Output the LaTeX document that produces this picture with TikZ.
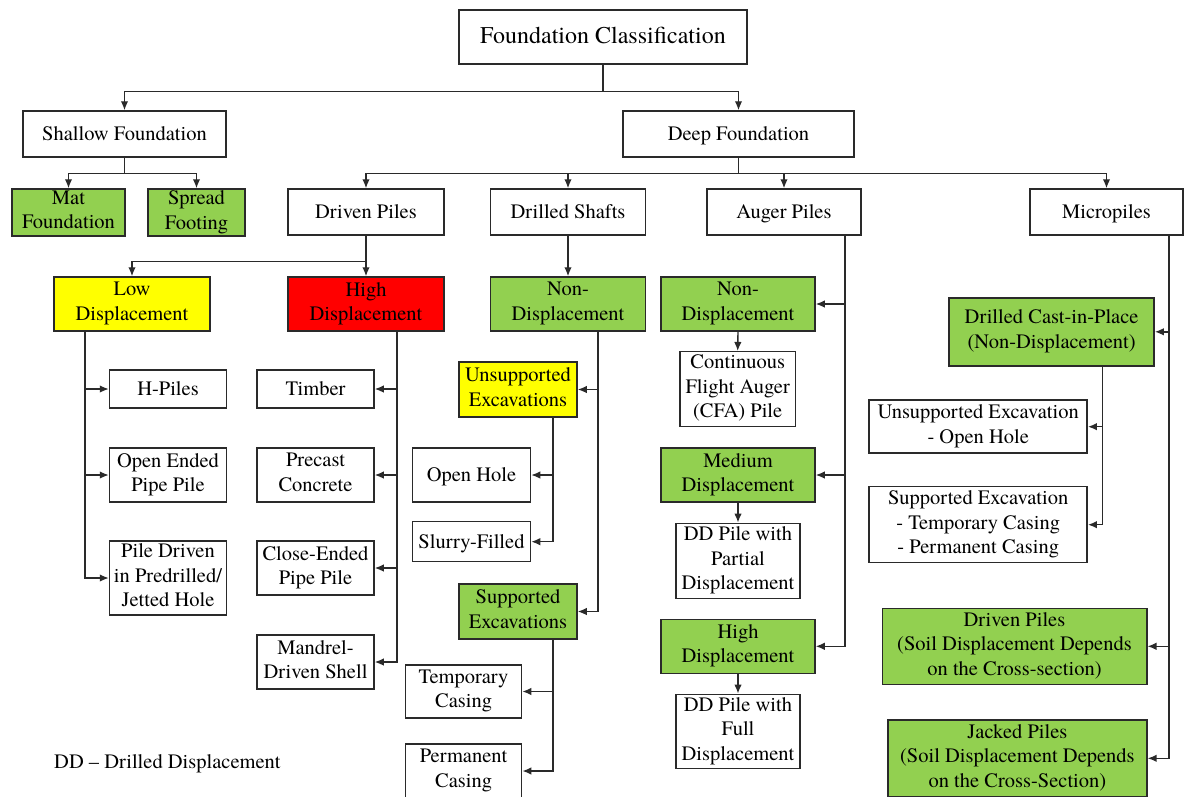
\documentclass[tikz,border=0pt]{standalone}
\usepackage{fontspec}
\setmainfont{TeX Gyre Termes}
\usetikzlibrary{arrows.meta}
\definecolor{gfill}{HTML}{92D050}
\definecolor{yfill}{HTML}{FFFF00}
\definecolor{rfill}{HTML}{FF0000}
\definecolor{ln}{HTML}{2A2A2A}
\newcommand\boxstrut{\rule[-5.35pt]{0pt}{24.5pt}}
\begin{document}
\begin{tikzpicture}[x=1pt,y=-1pt,
  box/.style={draw=ln,line width=1.5pt,inner sep=0pt,align=center,
    font=\rmfamily\fontsize{20.5}{24.5}\selectfont,
    execute at begin node=\boxstrut, execute at end node=\boxstrut},
  green/.style={box,fill=gfill},
  yel/.style={box,fill=yfill},
  red/.style={box,fill=rfill},
  arr/.style={draw=ln,line width=1.4pt,-{Latex[length=9pt,width=7.5pt]}}]
\useasboundingbox (0,0) rectangle (1187,796);
% level 0-1
\node[box,font=\rmfamily\fontsize{24}{28}\selectfont,minimum width=288pt,minimum height=54pt] (fc) at (603,37) {Foundation Classification};
\node[box,minimum width=203pt,minimum height=46pt] (shallow) at (124.5,134) {Shallow Foundation};
\node[box,minimum width=231pt,minimum height=46pt] (deep) at (738.5,134) {Deep Foundation};
% level 2
\node[green,minimum width=113pt,minimum height=47pt] (mat) at (68.5,212.5) {Mat\\Foundation};
\node[green,minimum width=97pt,minimum height=47pt] (spread) at (196.5,212.5) {Spread\\Footing};
\node[box,minimum width=156pt,minimum height=46pt] (driven) at (366,212) {Driven Piles};
\node[box,minimum width=155pt,minimum height=46pt] (drilled) at (568,212) {Drilled Shafts};
\node[box,minimum width=154pt,minimum height=46pt] (auger) at (784,212) {Auger Piles};
\node[box,minimum width=153pt,minimum height=46pt] (micro) at (1106.5,212) {Micropiles};
% level 3
\node[yel,minimum width=156pt,minimum height=54pt] (low) at (132,304) {Low\\Displacement};
\node[red,minimum width=156pt,minimum height=54pt] (high) at (366,304) {High\\Displacement};
\node[green,minimum width=155pt,minimum height=54pt] (nond) at (568,304) {Non-\\Displacement};
\node[green,minimum width=154pt,minimum height=54pt] (nona) at (738,304) {Non-\\Displacement};
\node[green,minimum width=205pt,minimum height=68pt] (dcip) at (1051.6,331.8) {Drilled Cast-in-Place\\(Non-Displacement)};
% low displacement children
\node[box,minimum width=117pt,minimum height=38pt] (hpiles) at (168,389) {H-Piles};
\node[box,minimum width=117pt,minimum height=54pt] (openended) at (168,475) {Open Ended\\Pipe Pile};
\node[box,minimum width=117pt,minimum height=74pt] (piledriven) at (168,578) {Pile Driven\\in Predrilled/\\Jetted Hole};
% high displacement children
\node[box,minimum width=117pt,minimum height=38pt] (timber) at (315.5,389) {Timber};
\node[box,minimum width=117pt,minimum height=54pt] (precast) at (315.5,475) {Precast\\Concrete};
\node[box,minimum width=117pt,minimum height=54pt] (close) at (315.5,568) {Close-Ended\\Pipe Pile};
\node[box,minimum width=117pt,minimum height=54pt] (mandrel) at (315.5,662) {Mandrel-\\Driven Shell};
% drilled shafts children
\node[yel,minimum width=118pt,minimum height=55pt] (unsup) at (518,389.5) {Unsupported\\Excavations};
\node[box,minimum width=118pt,minimum height=54pt] (openhole) at (471.5,475) {Open Hole};
\node[box,minimum width=118pt,minimum height=40pt] (slurry) at (471.5,541.7) {Slurry-Filled};
\node[green,minimum width=118pt,minimum height=55pt] (sup) at (518,611.5) {Supported\\Excavations};
\node[box,minimum width=116pt,minimum height=53pt] (temp) at (463.6,691.5) {Temporary\\Casing};
\node[box,minimum width=116pt,minimum height=54pt] (perm) at (463.6,771) {Permanent\\Casing};
% auger children
\node[box,minimum width=115.5pt,minimum height=75pt] (cfa) at (737.7,389.2) {Continuous\\Flight Auger\\(CFA) Pile};
\node[green,minimum width=154pt,minimum height=54pt] (medium) at (738,475) {Medium\\Displacement};
\node[box,minimum width=124pt,minimum height=75pt] (ddpartial) at (738,560.8) {DD Pile with\\Partial\\Displacement};
\node[green,minimum width=154pt,minimum height=54pt] (higha) at (738,646.3) {High\\Displacement};
\node[box,minimum width=124pt,minimum height=74pt] (ddfull) at (738,731.3) {DD Pile with\\Full\\Displacement};
% micropile children
\node[box,minimum width=218pt,minimum height=53pt] (unsupex) at (978.2,426.7) {Unsupported Excavation\\- Open Hole};
\node[box,minimum width=218pt,minimum height=76pt] (supex) at (978.2,524.7) {Supported Excavation\\- Temporary Casing\\- Permanent Casing};
\node[green,minimum width=264.5pt,minimum height=76pt] (drivenm) at (1014.5,646.3) {Driven Piles\\(Soil Displacement Depends\\on the Cross-section)};
\node[green,minimum width=259pt,minimum height=77pt] (jacked) at (1017.4,758.3) {Jacked Piles\\(Soil Displacement Depends\\on the Cross-Section)};
% note
\node[anchor=base west,inner sep=0pt,font=\rmfamily\fontsize{20.5}{24.5}\selectfont] (note) at (54,768) {DD -- Drilled Displacement};
% connectors
\draw[arr] (fc.south) -- ++(0,27) -| (shallow.north);
\draw[arr] (fc.south) -- ++(0,27) -| (deep.north);
\draw[arr] (shallow.south) -- ++(0,16) -| (mat.north);
\draw[arr] (shallow.south) -- ++(0,16) -| (spread.north);
\draw[arr] (deep.south) -- ++(0,16) -| (driven.north);
\draw[arr] (deep.south) -- ++(0,16) -| (drilled.north);
\draw[arr] (deep.south) -- ++(0,16) -| (auger.north);
\draw[arr] (deep.south) -- ++(0,16) -| (micro.north);
\draw[arr] (driven.south) -- ++(0,26) -| (low.north);
\draw[arr] (driven.south) -- (high.north);
\draw[arr] (drilled.south) -- (nond.north);
\draw[arr] ([xshift=-47pt]low.south) |- (hpiles.west);
\draw[arr] ([xshift=-47pt]low.south) |- (openended.west);
\draw[arr] ([xshift=-47pt]low.south) |- (piledriven.west);
\draw[arr] ([xshift=31pt]high.south) |- (timber.east);
\draw[arr] ([xshift=31pt]high.south) |- (precast.east);
\draw[arr] ([xshift=31pt]high.south) |- (close.east);
\draw[arr] ([xshift=31pt]high.south) |- (mandrel.east);
\draw[arr] ([xshift=30pt]nond.south) |- (unsup.east);
\draw[arr] ([xshift=30pt]nond.south) |- (sup.east);
\draw[arr] ([xshift=35pt]unsup.south) |- (openhole.east);
\draw[arr] ([xshift=35pt]unsup.south) |- (slurry.east);
\draw[arr] ([xshift=35pt]sup.south) |- (temp.east);
\draw[arr] ([xshift=35pt]sup.south) |- (perm.east);
\draw[arr] ([xshift=61pt]auger.south) |- (nona.east);
\draw[arr] ([xshift=61pt]auger.south) |- (medium.east);
\draw[arr] ([xshift=61pt]auger.south) |- (higha.east);
\draw[arr] (nona.south) -- (cfa.north);
\draw[arr] (medium.south) -- (ddpartial.north);
\draw[arr] (higha.south) -- (ddfull.north);
\draw[arr] ([xshift=62.5pt]micro.south) |- (dcip.east);
\draw[arr] ([xshift=62.5pt]micro.south) |- (drivenm.east);
\draw[arr] ([xshift=62.5pt]micro.south) |- (jacked.east);
\draw[arr] ([xshift=50.8pt]dcip.south) |- (unsupex.east);
\draw[arr] ([xshift=50.8pt]dcip.south) |- (supex.east);
\end{tikzpicture}
\end{document}
